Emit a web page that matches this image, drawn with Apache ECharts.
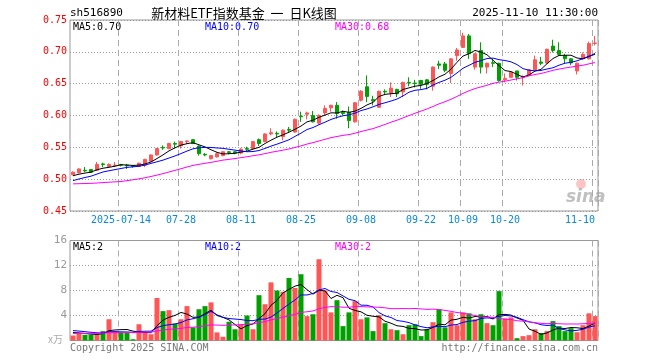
<!DOCTYPE html>
<html><head><meta charset="utf-8">
<script src="https://cdn.jsdelivr.net/npm/echarts@6/dist/echarts.min.js"></script>
<style>html,body{margin:0;padding:0;background:#fff}#c{width:660px;height:360px}</style>
</head><body><div id="c"></div>
<script>
// ---- data ----
const dates = [
 '2025-07-02','2025-07-03','2025-07-04','2025-07-07','2025-07-08','2025-07-09','2025-07-10','2025-07-11',
 '2025-07-14','2025-07-15','2025-07-16','2025-07-17','2025-07-18','2025-07-21','2025-07-22','2025-07-23',
 '2025-07-24','2025-07-25','2025-07-28','2025-07-29','2025-07-30','2025-07-31',
 '2025-08-01','2025-08-04','2025-08-05','2025-08-06','2025-08-07','2025-08-08','2025-08-11','2025-08-12',
 '2025-08-13','2025-08-14','2025-08-15','2025-08-18','2025-08-19','2025-08-20','2025-08-21','2025-08-22',
 '2025-08-25','2025-08-26','2025-08-27','2025-08-28','2025-08-29',
 '2025-09-01','2025-09-02','2025-09-03','2025-09-04','2025-09-05','2025-09-08','2025-09-09','2025-09-10',
 '2025-09-11','2025-09-12','2025-09-15','2025-09-16','2025-09-17','2025-09-18','2025-09-19','2025-09-22',
 '2025-09-23','2025-09-24','2025-09-25','2025-09-26','2025-09-29','2025-09-30',
 '2025-10-09','2025-10-10','2025-10-13','2025-10-14','2025-10-15','2025-10-16','2025-10-17','2025-10-20',
 '2025-10-21','2025-10-22','2025-10-23','2025-10-24','2025-10-27','2025-10-28','2025-10-29','2025-10-30','2025-10-31',
 '2025-11-03','2025-11-04','2025-11-05','2025-11-06','2025-11-07','2025-11-10'
];
const labelDates = ['2025-07-14','2025-07-28','2025-08-11','2025-08-25','2025-09-08','2025-09-22','2025-10-09','2025-10-20','2025-11-10'];

const openP = [
 .507,.510,.514,.515,.514,.524,.520,.521,.523,.522,.521,.520,.522,.528,.538,.550,.548,.556,.5525,.559,
 .562,.552,.539,.532,.535,.537,.543,.543,.541,.548,.548,.562,.559,.571,.572,.567,.578,.574,.599,.602,
 .600,.588,.604,.612,.616,.605,.605,.590,.624,.645,.625,.613,.638,.635,.641,.637,.652,.651,.655,.656,
 .646,.681,.681,.666,.694,.707,.725,.676,.702,.676,.683,.682,.656,.660,.670,.660,.663,.672,.684,.6825,
 .709,.702,.694,.689,.670,.689,.689,.713
];
const closeP = [
 .511,.516,.513,.511,.523,.523,.523,.522,.522,.521,.520,.525,.531,.538,.548,.549,.556,.555,.559,.560,
 .556,.540,.538,.537,.540,.543,.542,.541,.547,.547,.559,.556,.571,.573,.571,.577,.577,.594,.598,.604,
 .590,.600,.611,.616,.603,.603,.592,.620,.638,.630,.623,.638,.637,.643,.634,.652,.651,.650,.649,.649,
 .676,.679,.671,.689,.703,.725,.697,.697,.676,.682,.682,.655,.658,.668,.660,.661,.672,.6875,.682,.704,
 .702,.696,.689,.6825,.682,.696,.713,.714
];
const lowP = [
 .506,.509,.511,.510,.513,.519,.519,.519,.520,.516,.518,.519,.519,.527,.537,.546,.547,.548,.548,.555,
 .555,.537,.536,.531,.534,.536,.539,.539,.539,.544,.547,.552,.558,.569,.566,.561,.573,.573,.590,.594,
 .589,.586,.600,.606,.595,.600,.580,.589,.622,.621,.616,.612,.632,.629,.629,.629,.646,.644,.642,.641,
 .639,.673,.668,.651,.686,.706,.689,.672,.666,.666,.676,.653,.652,.659,.655,.647,.662,.671,.679,.681,
 .699,.694,.681,.679,.6645,.688,.688,.710
];
const highP = [
 .512,.517,.519,.516,.527,.526,.525,.527,.524,.524,.522,.526,.532,.539,.549,.553,.557,.559,.560,.561,
 .563,.553,.541,.538,.542,.544,.544,.544,.549,.551,.560,.564,.572,.580,.575,.578,.582,.595,.606,.606,
 .607,.602,.616,.617,.621,.608,.614,.621,.640,.663,.631,.639,.641,.652,.642,.653,.660,.656,.656,.657,
 .677,.686,.684,.690,.706,.730,.728,.698,.715,.683,.689,.683,.666,.669,.670,.663,.673,.694,.692,.705,
 .719,.715,.697,.690,.683,.699,.716,.725
];
// volume in 万 (10k) shares
const volume = [
 0.8,1.1,0.9,0.93,1.1,1.5,3.4,1.5,1.2,1.2,0.2,2.6,1.2,1.0,6.8,4.7,4.85,2.7,3.4,5.5,
 2.1,5.0,5.5,6.1,1.3,0.6,3.0,1.8,2.6,4.0,1.8,7.25,5.8,9.3,8.0,7.8,10.0,8.4,10.6,3.9,
 4.2,13.0,8.0,4.5,6.45,2.3,4.5,6.3,3.4,3.7,1.5,4.05,2.77,1.8,1.65,1.0,2.45,2.6,0.7,1.8,
 2.93,5.0,2.1,4.5,2.45,4.5,4.35,3.4,4.2,2.77,2.45,7.9,3.55,3.7,0.37,0.7,0.85,1.8,1.2,1.5,
 3.1,2.3,1.5,1.97,1.33,2.45,4.35,3.9
];
// estimated closes / volumes of the 29 sessions before the first shown day
// (only used so the moving averages start where the reference draws them)
const priorCloses = [
 .505,.505,.505,.505,.505,.505,.505,.505,
 .480,.480,.480,.480,.480,.480,.480,.480,.480,.480,.480,.480,
 .490,.490,.490,.490,.490,
 .504,.504,.504,.504
];
const priorVolumes = [
 0.9,0.9,0.9,0.9,0.9,0.9,0.9,0.9,0.9,0.9,0.9,0.9,0.9,0.9,0.9,0.9,0.9,0.9,0.9,0.9,
 1.9,1.9,1.9,1.9,1.9,
 1.4,1.4,1.4,1.4
];
const priceTicks = {min: 0.45, max: 0.75, step: 0.05};
const volTicks = {min: 0, max: 16, step: 4};

// ---- helpers ----
function movingAvg(prior, vals, n) {
  const all = prior.concat(vals);
  return vals.map((_, i) => {
    let s = 0;
    for (let k = 0; k < n; k++) s += all[prior.length + i - k];
    return +(s / n).toFixed(4);
  });
}
const ma5 = movingAvg(priorCloses, closeP, 5);
const ma10 = movingAvg(priorCloses, closeP, 10);
const ma30 = movingAvg(priorCloses, closeP, 30);
const vma5 = movingAvg(priorVolumes, volume, 5);
const vma10 = movingAvg(priorVolumes, volume, 10);
const vma30 = movingAvg(priorVolumes, volume, 30);
const last = dates.length - 1;

const RED = '#ff5555', GREEN = '#00a000';
const MONO = '"DejaVu Sans Mono", "Liberation Mono", monospace';
const labelSet = new Set(labelDates);
const isLabel = (i, v) => labelSet.has(v);
function fmtDate(v) {
  if (v === labelDates[0]) return v;
  if (v === labelDates[labelDates.length - 1]) return '{last|' + v.slice(5) + '}';
  return v.slice(5);
}

const chart = echarts.init(document.getElementById('c'), null, {renderer: 'canvas'});
const gridL = 70, gridW = 528;
const txt = (x, y, text, fill, font, align) => ({
  type: 'text', silent: true,
  style: {x, y, text, fill, font, align: align || 'left', verticalAlign: 'middle'}
});
const monoFont = '10px ' + MONO;

chart.setOption({
  animation: false,
  backgroundColor: '#fff',
  grid: [
    {left: gridL, top: 20, width: gridW, height: 191, show: true, borderColor: '#999', borderWidth: 1, backgroundColor: 'transparent'},
    {left: gridL, top: 240.5, width: gridW, height: 100, show: true, borderColor: '#999', borderWidth: 1, backgroundColor: 'transparent'}
  ],
  xAxis: [
    {type: 'category', gridIndex: 0, data: dates, boundaryGap: true,
     axisLine: {show: false}, axisTick: {show: false},
     axisLabel: {interval: isLabel, formatter: fmtDate, color: '#0a8ad8', fontFamily: MONO, fontSize: 10, margin: 4,
                 rich: {last: {color: '#0a8ad8', fontFamily: MONO, fontSize: 10, padding: [0, 30, 0, 0]}}},
     splitLine: {show: true, interval: isLabel, lineStyle: {color: '#aaa', type: [6, 4], width: 1}}},
    {type: 'category', gridIndex: 1, data: dates, boundaryGap: true,
     axisLine: {show: false}, axisTick: {show: false}, axisLabel: {show: false},
     splitLine: {show: true, interval: isLabel, lineStyle: {color: '#aaa', type: [6, 4], width: 1}}}
  ],
  yAxis: [
    {type: 'value', gridIndex: 0, min: priceTicks.min, max: priceTicks.max, interval: priceTicks.step, scale: true,
     axisLine: {show: false}, axisTick: {show: false},
     axisLabel: {color: '#ff0000', fontFamily: MONO, fontSize: 10, margin: 3, formatter: v => v.toFixed(2)},
     splitLine: {show: true, lineStyle: {color: '#999', type: [1, 2], width: 1}}},
    {type: 'value', gridIndex: 1, min: volTicks.min, max: volTicks.max, interval: volTicks.step,
     axisLine: {show: false}, axisTick: {show: false},
     axisLabel: {color: '#999', fontFamily: MONO, fontSize: 11, margin: 3, formatter: v => v === 0 ? '' : String(v)},
     splitLine: {show: true, lineStyle: {color: '#999', type: [1, 2], width: 1}}}
  ],
  series: [
    {type: 'candlestick', xAxisIndex: 0, yAxisIndex: 0, barWidth: 4,
     data: dates.map((d, i) => [openP[i], closeP[i], lowP[i], highP[i]]),
     itemStyle: {color: RED, color0: GREEN, borderColor: RED, borderColor0: GREEN, borderWidth: 1}},
    {type: 'line', xAxisIndex: 0, yAxisIndex: 0, data: ma5, symbol: 'none', lineStyle: {color: '#000', width: 1}, itemStyle: {color: '#000'}},
    {type: 'line', xAxisIndex: 0, yAxisIndex: 0, data: ma10, symbol: 'none', lineStyle: {color: '#0000ff', width: 1}, itemStyle: {color: '#0000ff'}},
    {type: 'line', xAxisIndex: 0, yAxisIndex: 0, data: ma30, symbol: 'none', lineStyle: {color: '#ff00ff', width: 1}, itemStyle: {color: '#ff00ff'}},
    {type: 'bar', xAxisIndex: 1, yAxisIndex: 1, barWidth: 5,
     data: volume.map((v, i) => ({value: v, itemStyle: {color: closeP[i] >= openP[i] ? RED : GREEN}}))},
    {type: 'line', xAxisIndex: 1, yAxisIndex: 1, data: vma5, symbol: 'none', lineStyle: {color: '#000', width: 1}, itemStyle: {color: '#000'}},
    {type: 'line', xAxisIndex: 1, yAxisIndex: 1, data: vma10, symbol: 'none', lineStyle: {color: '#0000ff', width: 1}, itemStyle: {color: '#0000ff'}},
    {type: 'line', xAxisIndex: 1, yAxisIndex: 1, data: vma30, symbol: 'none', lineStyle: {color: '#ff00ff', width: 1}, itemStyle: {color: '#ff00ff'}}
  ],
  graphic: [
    txt(70, 13, 'sh516890', '#000', '11px ' + MONO),
    txt(244, 13, '新材料ETF指数基金  一  日K线图', '#000', '13px "Noto Sans CJK SC"', 'center'),
    txt(598, 13, '2025-11-10 11:30:00', '#000', '11px ' + MONO, 'right'),
    txt(73, 27, 'MA5:' + ma5[last].toFixed(2), '#000', monoFont),
    txt(205, 27, 'MA10:' + ma10[last].toFixed(2), '#0000ff', monoFont),
    txt(335, 27, 'MA30:' + ma30[last].toFixed(2), '#ff00ff', monoFont),
    txt(73, 247, 'MA5:' + Math.floor(vma5[last]), '#000', monoFont),
    txt(205, 247, 'MA10:' + Math.floor(vma10[last]), '#0000ff', monoFont),
    txt(335, 247, 'MA30:' + Math.floor(vma30[last]), '#ff00ff', monoFont),
    txt(48, 339, 'x万', '#aaa', '10px "Noto Sans CJK SC"'),
    txt(70, 348, 'Copyright 2025 SINA.COM', '#777', monoFont),
    txt(598, 348, 'http://finance.sina.com.cn', '#777', monoFont, 'right'),
    {type: 'circle', silent: true, shape: {cx: 581, cy: 184, r: 5}, style: {fill: 'rgba(255,90,90,0.35)'}},
    txt(566, 198, 'sina', 'rgba(140,140,140,0.55)', 'italic bold 17px "DejaVu Sans"')
  ]
});
</script></body></html>
